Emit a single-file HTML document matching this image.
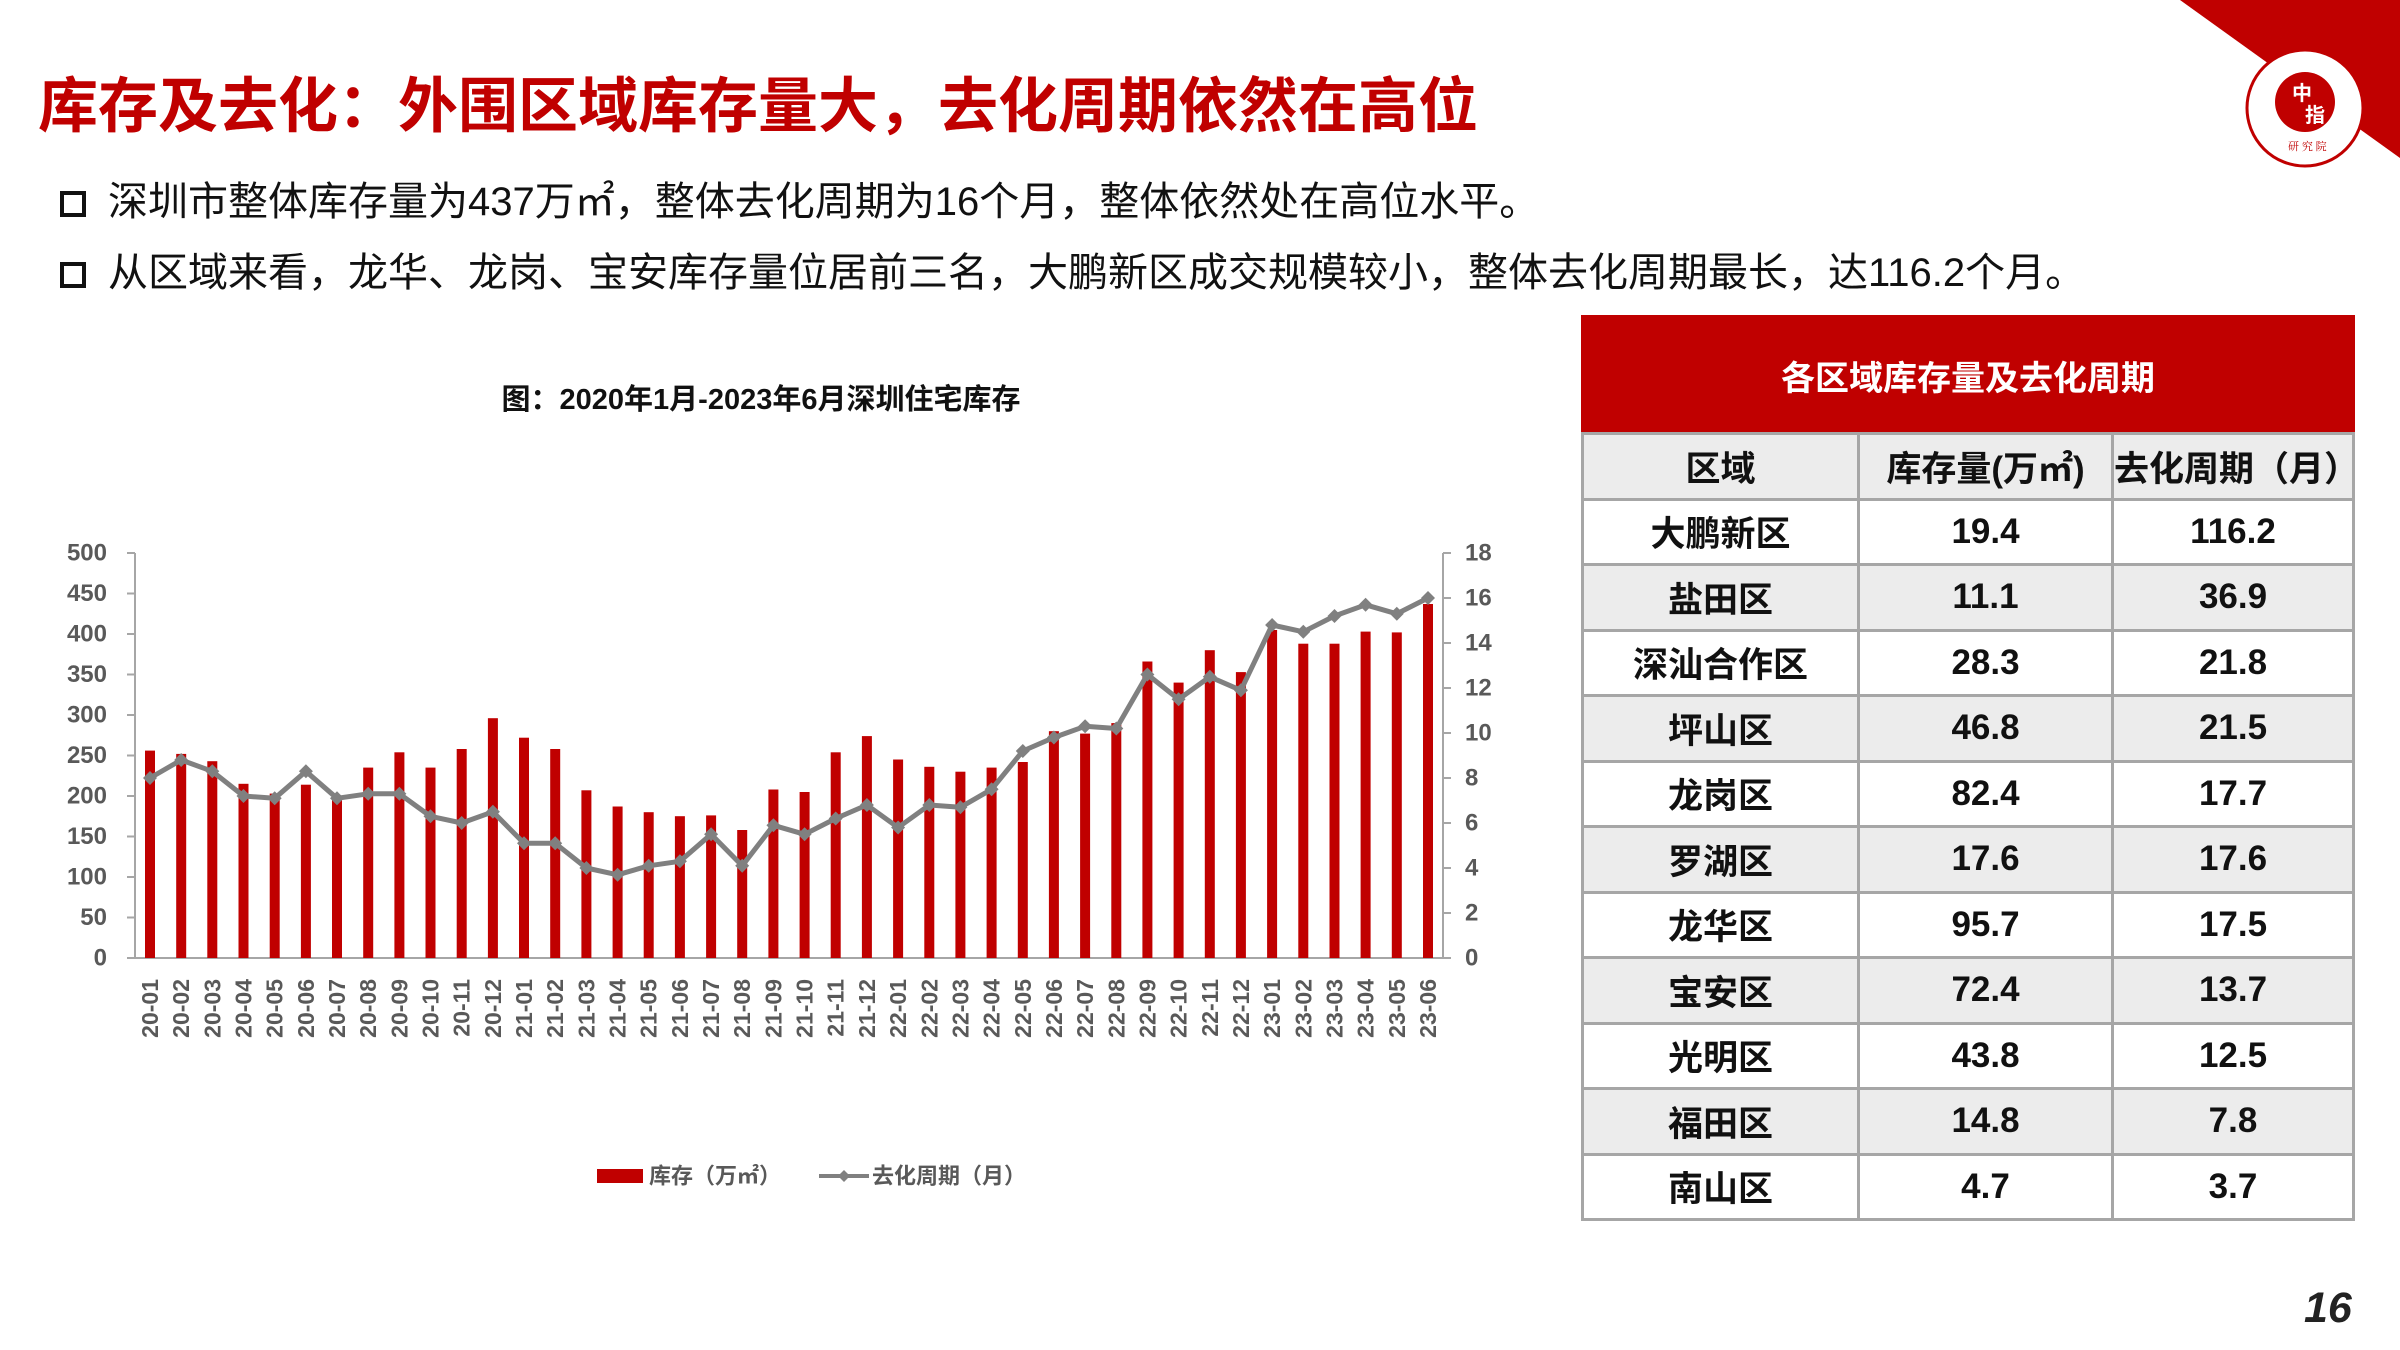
<!DOCTYPE html>
<html><head><meta charset="utf-8"><style>
*{margin:0;padding:0;box-sizing:border-box}
body{width:2400px;height:1350px;background:#fff;position:relative;overflow:hidden;font-family:"Liberation Sans","Noto Sans CJK SC",sans-serif}
.title{position:absolute;left:38px;top:58px;font-size:60px;font-weight:bold;color:#c00000;letter-spacing:0px;white-space:nowrap}
.b{position:absolute;left:60px;font-size:40px;color:#111;white-space:nowrap}
.b span.box{display:inline-block;width:26px;height:26px;border:4px solid #111;margin-right:22px;vertical-align:-2px}
table{position:absolute;left:1581px;top:315px;width:774px;border-collapse:collapse;font-weight:bold;color:#111}
td{border:3px solid #a6a6a6;text-align:center;font-size:35px;height:65.5px;padding:0}
tr.h td{background:#c00000;color:#fff;height:117px;font-size:34px;border-color:#c00000 #c00000 #a6a6a6 #c00000}
tr.g td{background:#ececec}
.pn{position:absolute;left:2304px;top:1284px;font-size:43px;font-weight:bold;font-style:italic;color:#222}
</style></head><body>
<svg width="2400" height="1350" style="position:absolute;left:0;top:0">
<polygon points="2180,0 2400,0 2400,158" fill="#c00000"/>
<circle cx="2305" cy="108" r="58" fill="#fff" stroke="#c00000" stroke-width="3"/>
<circle cx="2305" cy="102" r="30" fill="#c00000"/>
<text x="2292" y="100" font-size="20" font-weight="bold" fill="#fff" font-family="Noto Sans CJK SC">中</text>
<text x="2305" y="122" font-size="20" font-weight="bold" fill="#fff" font-family="Noto Sans CJK SC">指</text>
<text x="2288" y="150" font-size="11" fill="#c00000" font-family="Noto Serif CJK SC">研 究 院</text>
</svg>
<div class="title">库存及去化：外围区域库存量大，去化周期依然在高位</div>
<div class="b" style="top:169px"><span class="box"></span>深圳市整体库存量为437万㎡，整体去化周期为16个月，整体依然处在高位水平。</div>
<div class="b" style="top:240px"><span class="box"></span>从区域来看，龙华、龙岗、宝安库存量位居前三名，大鹏新区成交规模较小，整体去化周期最长，达116.2个月。</div>

<svg width="1560" height="1250" style="position:absolute;left:0;top:0" font-family="Liberation Sans, Noto Sans CJK SC, sans-serif">
<text x="761" y="409" font-size="29" font-weight="bold" text-anchor="middle" fill="#111">图：2020年1月-2023年6月深圳住宅库存</text>
<g stroke="#a6a6a6" stroke-width="2">
<line x1="135" y1="553" x2="135" y2="958"/><line x1="1443" y1="553" x2="1443" y2="958"/>
<line x1="127" y1="958" x2="1451" y2="958"/>
<line x1="127" y1="553" x2="135" y2="553"/><line x1="127" y1="593.5" x2="135" y2="593.5"/><line x1="127" y1="634" x2="135" y2="634"/><line x1="127" y1="674.5" x2="135" y2="674.5"/><line x1="127" y1="715" x2="135" y2="715"/><line x1="127" y1="755.5" x2="135" y2="755.5"/><line x1="127" y1="796" x2="135" y2="796"/><line x1="127" y1="836.5" x2="135" y2="836.5"/><line x1="127" y1="877" x2="135" y2="877"/><line x1="127" y1="917.5" x2="135" y2="917.5"/>
<line x1="1443" y1="553" x2="1451" y2="553"/><line x1="1443" y1="598" x2="1451" y2="598"/><line x1="1443" y1="643" x2="1451" y2="643"/><line x1="1443" y1="688" x2="1451" y2="688"/><line x1="1443" y1="733" x2="1451" y2="733"/><line x1="1443" y1="778" x2="1451" y2="778"/><line x1="1443" y1="823" x2="1451" y2="823"/><line x1="1443" y1="868" x2="1451" y2="868"/><line x1="1443" y1="913" x2="1451" y2="913"/>
</g>
<g font-size="24" font-weight="bold" fill="#595959" text-anchor="end" dominant-baseline="central">
<text x="107" y="553">500</text><text x="107" y="593.5">450</text><text x="107" y="634">400</text><text x="107" y="674.5">350</text><text x="107" y="715">300</text><text x="107" y="755.5">250</text><text x="107" y="796">200</text><text x="107" y="836.5">150</text><text x="107" y="877">100</text><text x="107" y="917.5">50</text><text x="107" y="958">0</text>
</g>
<g font-size="24" font-weight="bold" fill="#595959" dominant-baseline="central">
<text x="1465" y="553">18</text><text x="1465" y="598">16</text><text x="1465" y="643">14</text><text x="1465" y="688">12</text><text x="1465" y="733">10</text><text x="1465" y="778">8</text><text x="1465" y="823">6</text><text x="1465" y="868">4</text><text x="1465" y="913">2</text><text x="1465" y="958">0</text>
</g>
<g fill="#c00000">
<rect x="145" y="750.6" width="10" height="207.4"/><rect x="176.2" y="753.9" width="10" height="204.1"/><rect x="207.3" y="761.2" width="10" height="196.8"/><rect x="238.5" y="783.8" width="10" height="174.2"/><rect x="269.7" y="793.6" width="10" height="164.4"/><rect x="300.9" y="784.7" width="10" height="173.3"/><rect x="332" y="796" width="10" height="162"/><rect x="363.2" y="767.6" width="10" height="190.4"/><rect x="394.4" y="752.3" width="10" height="205.7"/><rect x="425.5" y="767.6" width="10" height="190.4"/><rect x="456.7" y="749" width="10" height="209"/><rect x="487.9" y="718.2" width="10" height="239.8"/><rect x="519" y="737.7" width="10" height="220.3"/><rect x="550.2" y="749" width="10" height="209"/><rect x="581.4" y="790.3" width="10" height="167.7"/><rect x="612.6" y="806.5" width="10" height="151.5"/><rect x="643.7" y="812.2" width="10" height="145.8"/><rect x="674.9" y="816.2" width="10" height="141.8"/><rect x="706.1" y="815.4" width="10" height="142.6"/><rect x="737.2" y="830" width="10" height="128"/><rect x="768.4" y="789.5" width="10" height="168.5"/><rect x="799.6" y="792" width="10" height="166"/><rect x="830.7" y="752.3" width="10" height="205.7"/><rect x="861.9" y="736.1" width="10" height="221.9"/><rect x="893.1" y="759.5" width="10" height="198.5"/><rect x="924.3" y="766.8" width="10" height="191.2"/><rect x="955.4" y="771.7" width="10" height="186.3"/><rect x="986.6" y="767.6" width="10" height="190.4"/><rect x="1017.8" y="762" width="10" height="196"/><rect x="1048.9" y="731.2" width="10" height="226.8"/><rect x="1080.1" y="733.6" width="10" height="224.4"/><rect x="1111.3" y="723.1" width="10" height="234.9"/><rect x="1142.4" y="661.5" width="10" height="296.5"/><rect x="1173.6" y="682.6" width="10" height="275.4"/><rect x="1204.8" y="650.2" width="10" height="307.8"/><rect x="1235.9" y="672.1" width="10" height="285.9"/><rect x="1267.1" y="630" width="10" height="328"/><rect x="1298.3" y="643.7" width="10" height="314.3"/><rect x="1329.5" y="643.7" width="10" height="314.3"/><rect x="1360.6" y="631.6" width="10" height="326.4"/><rect x="1391.8" y="632.4" width="10" height="325.6"/><rect x="1423" y="604" width="10" height="354"/>
</g>
<polyline fill="none" stroke="#808080" stroke-width="5" stroke-linejoin="round" points="150,778 181.2,760 212.3,771.3 243.5,796 274.7,798.3 305.9,771.3 337,798.3 368.2,793.8 399.4,793.8 430.5,816.3 461.7,823 492.9,811.8 524,843.3 555.2,843.3 586.4,868 617.6,874.8 648.7,865.8 679.9,861.3 711.1,834.3 742.2,865.8 773.4,825.3 804.6,834.3 835.7,818.5 866.9,805 898.1,827.5 929.3,805 960.4,807.3 991.6,789.3 1022.8,751 1053.9,737.5 1085.1,726.3 1116.3,728.5 1147.4,674.5 1178.6,699.3 1209.8,676.8 1240.9,690.3 1272.1,625 1303.3,631.8 1334.5,616 1365.6,604.8 1396.8,613.8 1428,598"/>
<g fill="#808080">
<path d="M150,771l7,7-7,7-7-7z"/><path d="M181.2,753l7,7-7,7-7-7z"/><path d="M212.3,764.3l7,7-7,7-7-7z"/><path d="M243.5,789l7,7-7,7-7-7z"/><path d="M274.7,791.3l7,7-7,7-7-7z"/><path d="M305.9,764.3l7,7-7,7-7-7z"/><path d="M337,791.3l7,7-7,7-7-7z"/><path d="M368.2,786.8l7,7-7,7-7-7z"/><path d="M399.4,786.8l7,7-7,7-7-7z"/><path d="M430.5,809.3l7,7-7,7-7-7z"/><path d="M461.7,816l7,7-7,7-7-7z"/><path d="M492.9,804.8l7,7-7,7-7-7z"/><path d="M524,836.3l7,7-7,7-7-7z"/><path d="M555.2,836.3l7,7-7,7-7-7z"/><path d="M586.4,861l7,7-7,7-7-7z"/><path d="M617.6,867.8l7,7-7,7-7-7z"/><path d="M648.7,858.8l7,7-7,7-7-7z"/><path d="M679.9,854.3l7,7-7,7-7-7z"/><path d="M711.1,827.3l7,7-7,7-7-7z"/><path d="M742.2,858.8l7,7-7,7-7-7z"/><path d="M773.4,818.3l7,7-7,7-7-7z"/><path d="M804.6,827.3l7,7-7,7-7-7z"/><path d="M835.7,811.5l7,7-7,7-7-7z"/><path d="M866.9,798l7,7-7,7-7-7z"/><path d="M898.1,820.5l7,7-7,7-7-7z"/><path d="M929.3,798l7,7-7,7-7-7z"/><path d="M960.4,800.3l7,7-7,7-7-7z"/><path d="M991.6,782.3l7,7-7,7-7-7z"/><path d="M1022.8,744l7,7-7,7-7-7z"/><path d="M1053.9,730.5l7,7-7,7-7-7z"/><path d="M1085.1,719.3l7,7-7,7-7-7z"/><path d="M1116.3,721.5l7,7-7,7-7-7z"/><path d="M1147.4,667.5l7,7-7,7-7-7z"/><path d="M1178.6,692.3l7,7-7,7-7-7z"/><path d="M1209.8,669.8l7,7-7,7-7-7z"/><path d="M1240.9,683.3l7,7-7,7-7-7z"/><path d="M1272.1,618l7,7-7,7-7-7z"/><path d="M1303.3,624.8l7,7-7,7-7-7z"/><path d="M1334.5,609l7,7-7,7-7-7z"/><path d="M1365.6,597.8l7,7-7,7-7-7z"/><path d="M1396.8,606.8l7,7-7,7-7-7z"/><path d="M1428,591l7,7-7,7-7-7z"/>
</g>
<g font-size="23" font-weight="bold" fill="#595959" text-anchor="end" dominant-baseline="central">
<text transform="translate(150,979) rotate(-90)">20-01</text><text transform="translate(181.2,979) rotate(-90)">20-02</text><text transform="translate(212.3,979) rotate(-90)">20-03</text><text transform="translate(243.5,979) rotate(-90)">20-04</text><text transform="translate(274.7,979) rotate(-90)">20-05</text><text transform="translate(305.9,979) rotate(-90)">20-06</text><text transform="translate(337,979) rotate(-90)">20-07</text><text transform="translate(368.2,979) rotate(-90)">20-08</text><text transform="translate(399.4,979) rotate(-90)">20-09</text><text transform="translate(430.5,979) rotate(-90)">20-10</text><text transform="translate(461.7,979) rotate(-90)">20-11</text><text transform="translate(492.9,979) rotate(-90)">20-12</text><text transform="translate(524,979) rotate(-90)">21-01</text><text transform="translate(555.2,979) rotate(-90)">21-02</text><text transform="translate(586.4,979) rotate(-90)">21-03</text><text transform="translate(617.6,979) rotate(-90)">21-04</text><text transform="translate(648.7,979) rotate(-90)">21-05</text><text transform="translate(679.9,979) rotate(-90)">21-06</text><text transform="translate(711.1,979) rotate(-90)">21-07</text><text transform="translate(742.2,979) rotate(-90)">21-08</text><text transform="translate(773.4,979) rotate(-90)">21-09</text><text transform="translate(804.6,979) rotate(-90)">21-10</text><text transform="translate(835.7,979) rotate(-90)">21-11</text><text transform="translate(866.9,979) rotate(-90)">21-12</text><text transform="translate(898.1,979) rotate(-90)">22-01</text><text transform="translate(929.3,979) rotate(-90)">22-02</text><text transform="translate(960.4,979) rotate(-90)">22-03</text><text transform="translate(991.6,979) rotate(-90)">22-04</text><text transform="translate(1022.8,979) rotate(-90)">22-05</text><text transform="translate(1053.9,979) rotate(-90)">22-06</text><text transform="translate(1085.1,979) rotate(-90)">22-07</text><text transform="translate(1116.3,979) rotate(-90)">22-08</text><text transform="translate(1147.4,979) rotate(-90)">22-09</text><text transform="translate(1178.6,979) rotate(-90)">22-10</text><text transform="translate(1209.8,979) rotate(-90)">22-11</text><text transform="translate(1240.9,979) rotate(-90)">22-12</text><text transform="translate(1272.1,979) rotate(-90)">23-01</text><text transform="translate(1303.3,979) rotate(-90)">23-02</text><text transform="translate(1334.5,979) rotate(-90)">23-03</text><text transform="translate(1365.6,979) rotate(-90)">23-04</text><text transform="translate(1396.8,979) rotate(-90)">23-05</text><text transform="translate(1428,979) rotate(-90)">23-06</text>
</g>
<rect x="597" y="1169" width="46" height="14" fill="#c00000"/>
<text x="649" y="1176" font-size="22" font-weight="bold" fill="#595959" dominant-baseline="central">库存（万㎡）</text>
<line x1="819" y1="1176" x2="869" y2="1176" stroke="#808080" stroke-width="4"/>
<path d="M844,1170l6,6-6,6-6-6z" fill="#808080"/>
<text x="872" y="1176" font-size="22" font-weight="bold" fill="#595959" dominant-baseline="central">去化周期（月）</text>
</svg>

<table>
<tr class="h"><td colspan="3">各区域库存量及去化周期</td></tr>
<tr class="g"><td style="width:276px">区域</td><td style="width:254px">库存量(万㎡)</td><td>去化周期（月）</td></tr>
<tr><td>大鹏新区</td><td>19.4</td><td>116.2</td></tr>
<tr class="g"><td>盐田区</td><td>11.1</td><td>36.9</td></tr>
<tr><td>深汕合作区</td><td>28.3</td><td>21.8</td></tr>
<tr class="g"><td>坪山区</td><td>46.8</td><td>21.5</td></tr>
<tr><td>龙岗区</td><td>82.4</td><td>17.7</td></tr>
<tr class="g"><td>罗湖区</td><td>17.6</td><td>17.6</td></tr>
<tr><td>龙华区</td><td>95.7</td><td>17.5</td></tr>
<tr class="g"><td>宝安区</td><td>72.4</td><td>13.7</td></tr>
<tr><td>光明区</td><td>43.8</td><td>12.5</td></tr>
<tr class="g"><td>福田区</td><td>14.8</td><td>7.8</td></tr>
<tr><td>南山区</td><td>4.7</td><td>3.7</td></tr>
</table>
<div class="pn">16</div>
</body></html>
